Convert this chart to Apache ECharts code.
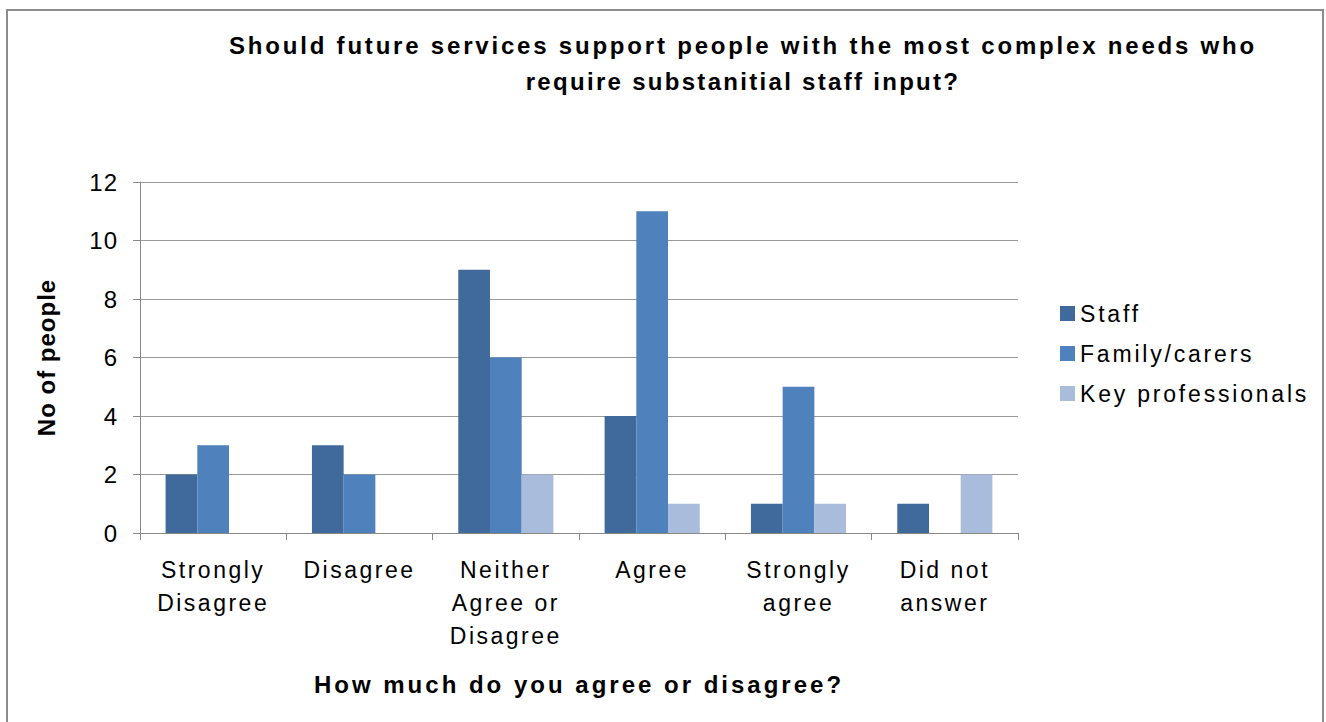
<!DOCTYPE html>
<html><head><meta charset="utf-8">
<script src="https://cdn.jsdelivr.net/npm/echarts@6/dist/echarts.min.js"></script>
<style>html,body{margin:0;padding:0;background:#fff}#c{width:1326px;height:722px}</style>
</head><body><div id="c"></div>
<script>
const categories = ['Strongly\nDisagree', 'Disagree', 'Neither\nAgree or\nDisagree', 'Agree', 'Strongly\nagree', 'Did not\nanswer'];
const seriesNames = ['Staff', 'Family/carers', 'Key professionals'];
const staff = [2, 3, 9, 4, 1, 1];
const familyCarers = [3, 2, 6, 11, 5, 0];
const keyProfessionals = [0, 0, 2, 1, 1, 2];
const yTicks = { min: 0, max: 12, interval: 2 };

const titleText = 'Should future services support people with the most complex needs who\nrequire substanitial staff input?';
const xName = 'How much do you agree or disagree?';
const yName = 'No of people';

const font = '"Liberation Sans", Arial, sans-serif';
const chart = echarts.init(document.getElementById('c'), null, { renderer: 'svg' });
const gap = { barGap: '0%', barCategoryGap: '35%' };
chart.setOption({
  animation: false,
  textStyle: { fontFamily: font },
  title: {
    text: titleText,
    left: 738, top: 22, textAlign: 'center',
    textStyle: { fontFamily: font, fontSize: 24, fontWeight: 'bold', color: '#000', lineHeight: 36 }
  },
  graphic: [{
    type: 'rect', shape: { x: 7, y: 10, width: 1316, height: 740 },
    style: { fill: 'none', stroke: '#8c8c8c', lineWidth: 2 }, silent: true, z: -1
  }],
  legend: {
    orient: 'vertical', left: 1055, top: 297,
    icon: 'rect', itemWidth: 15, itemHeight: 15, itemGap: 17,
    textStyle: { fontFamily: font, fontSize: 23, color: '#000', padding: [0, 0, 0, 0] },
    data: seriesNames
  },
  grid: { left: 140, right: 308, top: 182, bottom: 189 },
  xAxis: {
    type: 'category', data: categories,
    name: xName, nameLocation: 'middle', nameGap: 139,
    nameTextStyle: { fontFamily: font, fontSize: 24, fontWeight: 'bold', color: '#000' },
    axisLine: { lineStyle: { color: '#888', width: 1 } },
    axisTick: { show: true, length: 7, lineStyle: { color: '#888' } },
    axisLabel: { fontFamily: font, fontSize: 23, color: '#000', lineHeight: 33, margin: 20, interval: 0 }
  },
  yAxis: {
    type: 'value', min: yTicks.min, max: yTicks.max, interval: yTicks.interval,
    name: yName, nameLocation: 'middle', nameGap: 82, nameRotate: 90,
    nameTextStyle: { fontFamily: font, fontSize: 24, fontWeight: 'bold', color: '#000' },
    axisLine: { show: true, lineStyle: { color: '#888' } },
    axisTick: { show: true, length: 7, lineStyle: { color: '#888' } },
    axisLabel: { fontFamily: font, fontSize: 24, color: '#000', margin: 22 },
    splitLine: { lineStyle: { color: '#999' } }
  },
  series: [
    Object.assign({ name: seriesNames[0], type: 'bar', data: staff, itemStyle: { color: '#416A9C' } }, gap),
    Object.assign({ name: seriesNames[1], type: 'bar', data: familyCarers, itemStyle: { color: '#4F81BD' } }, gap),
    Object.assign({ name: seriesNames[2], type: 'bar', data: keyProfessionals, itemStyle: { color: '#AABCDB' } }, gap)
  ]
});

// widen text spacing to match the reference's character spacing
function spaceText() {
  const titleLines = titleText.split('\n');
  document.querySelectorAll('#c svg text').forEach(function (t) {
    const s = t.textContent;
    let ls = '2.5px';
    if (/^\d+$/.test(s)) ls = '1px';
    else if (s === yName) ls = '1px';
    else if (s === titleLines[0]) ls = '2.8px';
    else if (s === titleLines[1]) ls = '2.3px';
    else if (s === xName) ls = '3px';
    else if (seriesNames.indexOf(s) >= 0) ls = '2.8px';
    t.style.letterSpacing = ls;
  });
}
spaceText();
chart.on('finished', spaceText);
requestAnimationFrame(spaceText);
</script></body></html>
